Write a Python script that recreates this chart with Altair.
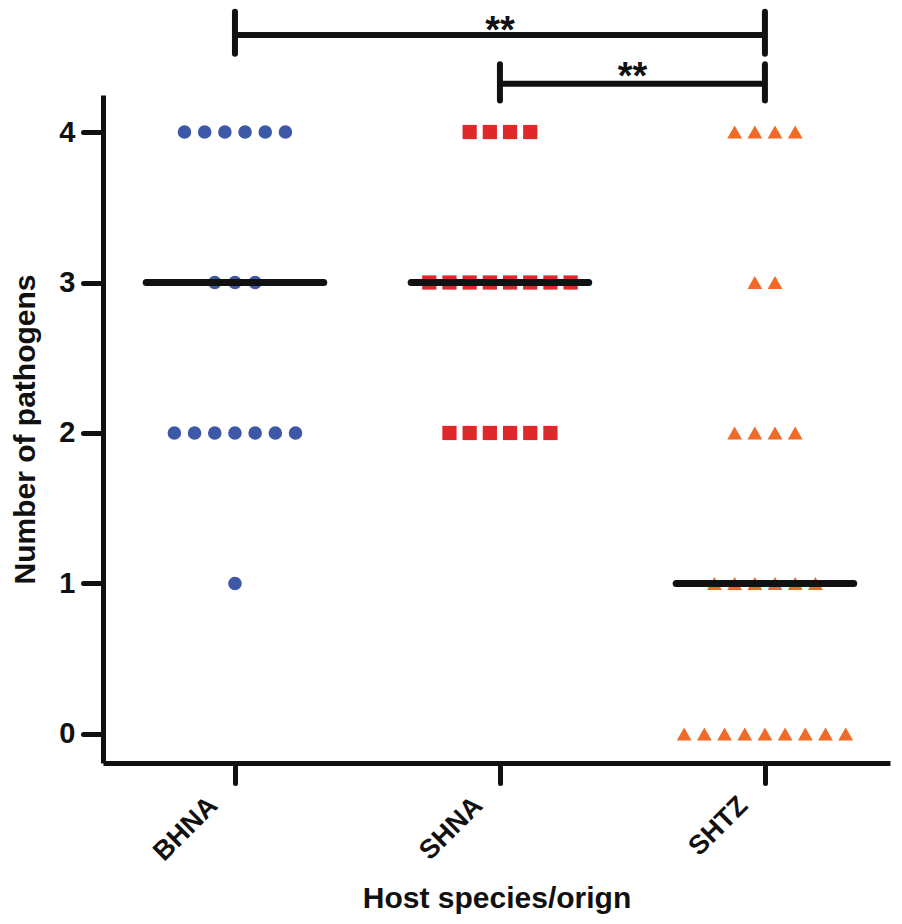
import altair as alt
import pandas as pd

# ---- data ----
groups = ["BHNA", "SHNA", "SHTZ"]
group_pos = [1, 2, 3]
levels = [0, 1, 2, 3, 4]
bhna_counts = [0, 1, 7, 3, 6]
shna_counts = [0, 0, 6, 8, 4]
shtz_counts = [9, 6, 4, 2, 4]
medians = [3, 3, 1]

colors = ["#3d58a7", "#e0282b", "#f06a28"]
shapes = ["circle", "square", "triangle-up"]

bracket_from = [1, 2]
bracket_to = [3, 3]
bracket_y = [4.645, 4.32]
bracket_tip_top = [4.80, 4.45]
bracket_tip_bottom = [4.52, 4.21]
bracket_label = ["**", "**"]
label_y = [4.59, 4.286]

spacing = 0.0762   # horizontal gap between stacked points (data units)
half_width = 0.335  # half width of the median bar

# ---- build tables ----
rows = []
for g, pos, counts in zip(groups, group_pos, [bhna_counts, shna_counts, shtz_counts]):
    for v, n in zip(levels, counts):
        for k in range(n):
            rows.append({"group": g, "x": pos + (k - (n - 1) / 2) * spacing, "y": v})
pts = pd.DataFrame(rows)

med = pd.DataFrame({
    "group": groups,
    "x1": [p - half_width for p in group_pos],
    "x2": [p + half_width for p in group_pos],
    "y": medians,
})

br = pd.DataFrame({
    "x1": bracket_from, "x2": bracket_to, "y": bracket_y,
    "top": bracket_tip_top, "bottom": bracket_tip_bottom,
    "label": bracket_label, "ly": label_y,
    "mid": [(a + b) / 2 for a, b in zip(bracket_from, bracket_to)],
})
ends = pd.DataFrame({
    "x": bracket_from + bracket_to,
    "top": bracket_tip_top + bracket_tip_top,
    "bottom": bracket_tip_bottom + bracket_tip_bottom,
})

FONT = "Liberation Sans"
label_expr = " : ".join(
    [f"datum.value == {p} ? '{g}'" for p, g in zip(group_pos[:-1], groups[:-1])]
) + f" : '{groups[-1]}'"

W, H = 787, 668
xscale = alt.Scale(domain=[0.502, 3.472], nice=False, zero=False)
yscale = alt.Scale(domain=[-0.193, 4.246], nice=False, zero=False)

xaxis = alt.Axis(values=group_pos, labelExpr=label_expr, title="Host species/orign",
                 labelAngle=-45, labelAlign="right", labelBaseline="middle",
                 labelPadding=18, labelOffset=-22, labelFontSize=27, labelFontWeight="bold",
                 titleFontSize=30, titleFontWeight="bold",
                 titleX=W / 2, titleY=135, titleBaseline="middle", titleAlign="center",
                 grid=False, tickSize=20)
yaxis = alt.Axis(values=levels, format="d", title="Number of pathogens", labelFontSize=29,
                 labelFontWeight="bold", labelPadding=8, titleFontSize=30,
                 titleFontWeight="bold", titleX=-78, titleY=H / 2, titleAngle=-90,
                 titleBaseline="middle", titleAlign="center", grid=False, tickSize=20)

points = alt.Chart(pts).mark_point(filled=True, opacity=1, strokeWidth=0).encode(
    x=alt.X("x:Q", scale=xscale, axis=xaxis),
    y=alt.Y("y:Q", scale=yscale, axis=yaxis),
    color=alt.Color("group:N", scale=alt.Scale(domain=groups, range=colors), legend=None),
    shape=alt.Shape("group:N", scale=alt.Scale(domain=groups, range=shapes), legend=None),
    size=alt.Size("group:N", scale=alt.Scale(domain=groups, range=[185, 220, 280]), legend=None),
)

median_rules = alt.Chart(med).mark_rule(color="#111111", strokeWidth=7, strokeCap="round").encode(
    x="x1:Q", x2="x2:Q", y="y:Q"
)

bracket_h = alt.Chart(br).mark_rule(color="#111111", strokeWidth=6, strokeCap="butt").encode(
    x="x1:Q", x2="x2:Q", y="y:Q"
)
bracket_v = alt.Chart(ends).mark_rule(color="#111111", strokeWidth=6, strokeCap="round").encode(
    x="x:Q", y="bottom:Q", y2="top:Q"
)
stars = alt.Chart(br).mark_text(font=FONT, fontSize=38, fontWeight="bold", color="#111111",
                                align="center", baseline="alphabetic").encode(
    x="mid:Q", y="ly:Q", text="label:N"
)

chart = alt.layer(points, median_rules, bracket_h, bracket_v, stars).properties(
    width=W, height=H,
    padding={"left": 95, "top": 87, "right": 4, "bottom": 153},
    autosize=alt.AutoSizeParams(type="none"),
).configure_view(stroke=None).configure_axis(
    labelFont=FONT, titleFont=FONT, labelColor="#111111", titleColor="#111111",
    domainColor="#111111", domainWidth=5, tickColor="#111111", tickWidth=5,
    tickCap="round",
)

chart.save("out.html", embed_options={"renderer": "svg", "actions": False})
